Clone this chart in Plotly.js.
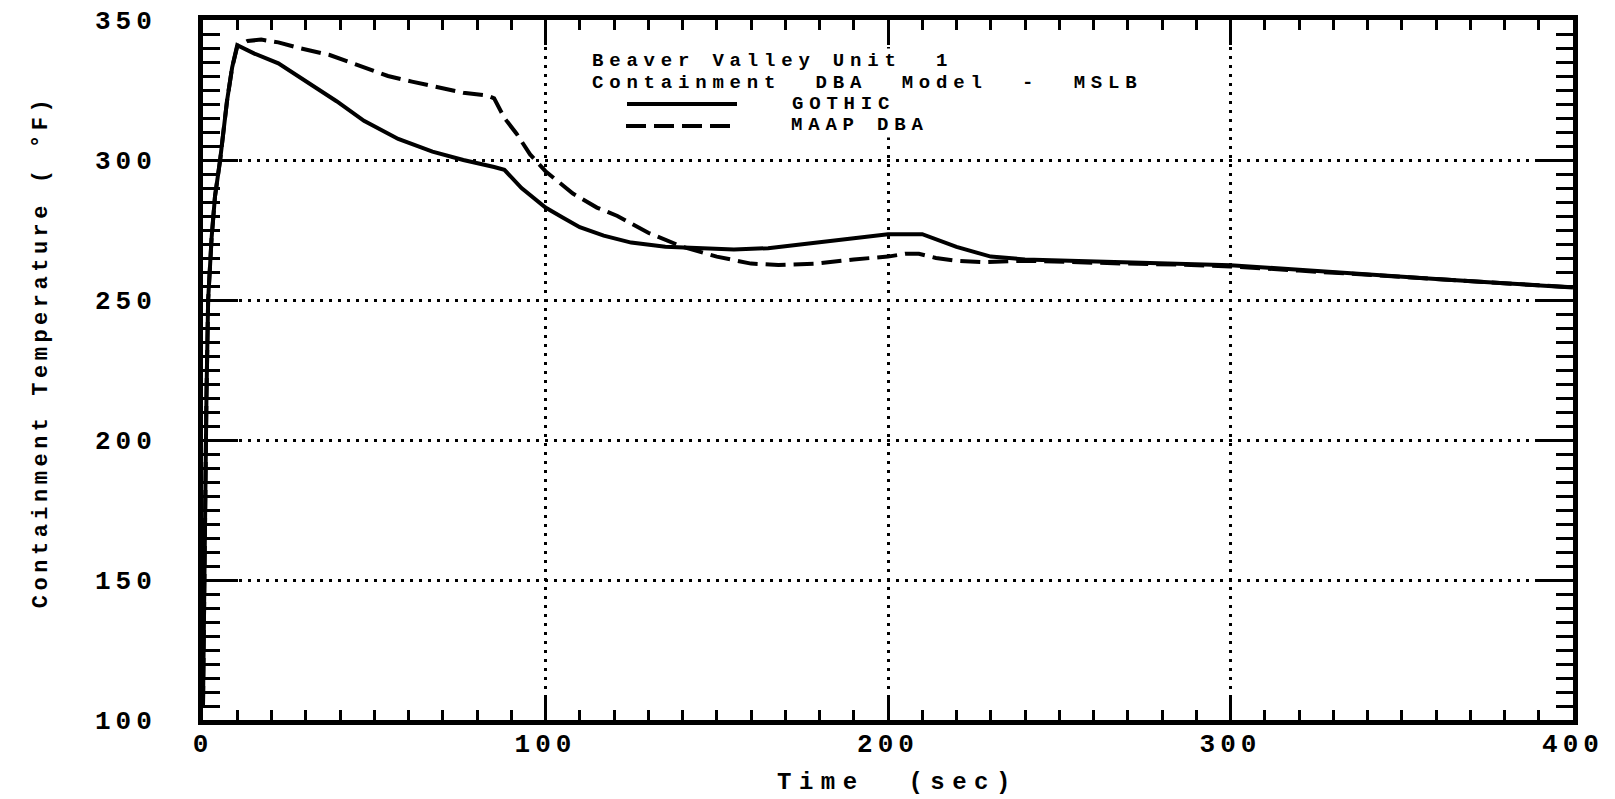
<!DOCTYPE html>
<html>
<head>
<meta charset="utf-8">
<script src="https://cdn.plot.ly/plotly-3.0.1.min.js"></script>
<style>
  html, body { margin: 0; padding: 0; background: #ffffff; }
  #chart { width: 1615px; height: 799px; }
  .xtick text, .ytick text { letter-spacing: 5px; }
  .annotation-text { letter-spacing: 5.8px; }
  .xlabel-note .annotation-text { letter-spacing: 7.5px; }
  .ylabel-note .annotation-text { letter-spacing: 4.5px; }
</style>
</head>
<body>
<div id="chart"></div>
<script>
// Containment temperature transient, main steam line break (MSLB)
const gothicTime = [0, 0.3, 0.6, 1, 1.5, 2.5, 3.5, 5, 7, 8.5, 10, 15, 22, 30, 39, 47, 57, 67, 76, 85, 88, 93, 100, 105, 110, 117, 125, 135, 145, 155, 165, 175, 185, 195, 200, 210, 220, 230, 240, 253, 270, 286, 300, 320, 340, 360, 380, 400];
const gothicTemp = [105, 150, 185, 215, 250, 272, 287, 300, 321, 333, 341, 338, 334.5, 328, 321, 314, 307.5, 303, 300, 297.5, 296.5, 290, 283, 279.5, 276, 273, 270.5, 269, 268.5, 268, 268.5, 270, 271.5, 273, 273.5, 273.5, 269, 265.5, 264.5, 264, 263.5, 263, 262.4, 260.8, 259, 257.5, 256, 254.5];

const maapTime = [0, 0.3, 0.6, 1, 1.5, 2.5, 3.5, 5, 7, 8.5, 10, 13, 17, 22, 28, 37, 45, 54, 61, 68, 76, 83, 85, 88, 91.5, 95.5, 100, 108, 115, 121, 130, 140, 150, 160, 168, 179, 190, 200, 205, 209, 214, 220, 228, 240, 253, 270, 286, 300, 320, 340, 360, 380, 400];
const maapTemp = [105, 150, 185, 215, 250, 272, 287, 300, 321, 333, 340.5, 342.5, 343, 342, 340, 337.5, 334, 330, 328, 326, 324, 323, 322, 315, 309.5, 302, 296, 288, 283, 280, 274, 269, 265.5, 263, 262.5, 263, 264.5, 265.5, 266.5, 266.5, 265, 264, 263.5, 264, 263.5, 263, 262.6, 262, 260.5, 259, 257.5, 256, 254.5];

const timeTicks = [0, 100, 200, 300, 400];
const tempTicks = [100, 150, 200, 250, 300, 350];

const seriesNames = ['GOTHIC', 'MAAP DBA'];
const headerLines = ['Beaver Valley Unit  1', 'Containment  DBA  Model  -  MSLB'];
const xTitle = 'Time  (sec)';
const yTitle = 'Containment Temperature ( °F)';

// plot frame in page pixels
const PL = 203, PR = 1573, PT = 20, PB = 720;
const px = x => (x - PL) / (PR - PL);
const py = y => (PB - y) / (PB - PT);

const FONT = 'Liberation Mono, Courier New, monospace';
const ink = '#000000';
const paper = '#ffffff';
const dashPattern = '20px,8px';

const traces = [
  {
    x: gothicTime, y: gothicTemp, name: seriesNames[0],
    type: 'scatter', mode: 'lines',
    line: { color: ink, width: 4 }
  },
  {
    x: maapTime, y: maapTemp, name: seriesNames[1],
    type: 'scatter', mode: 'lines',
    line: { color: ink, width: 4, dash: dashPattern }
  }
];

const tickFont = { family: FONT, size: 26, color: ink, weight: 'bold' };
const textFont = { family: FONT, size: 19, color: ink, weight: 'bold' };

const commonAxis = {
  showline: true, linecolor: ink, linewidth: 5, mirror: 'allticks',
  ticks: 'inside', tickcolor: ink, tickwidth: 3,
  showgrid: true, gridcolor: ink, gridwidth: 3, griddash: '3px,6px',
  zeroline: false, tickfont: tickFont, fixedrange: true
};

// header block and key labels sit on a white ground that hides the grid
const textDefaults = {
  xref: 'paper', yref: 'paper', xanchor: 'left', yanchor: 'middle', align: 'left',
  showarrow: false, font: textFont, borderpad: 1, bgcolor: paper
};

const layout = {
  width: 1615, height: 799,
  margin: { l: PL, r: 1615 - PR, t: PT, b: 799 - PB, pad: 0 },
  paper_bgcolor: paper, plot_bgcolor: paper,
  showlegend: false,
  xaxis: Object.assign({}, commonAxis, {
    range: [0, 400], tickmode: 'array', tickvals: timeTicks,
    ticklen: 25, ticklabelstandoff: -4,
    minor: { tick0: 0, dtick: 10, ticks: 'inside', ticklen: 10, tickwidth: 3, tickcolor: ink, showgrid: false }
  }),
  yaxis: Object.assign({}, commonAxis, {
    range: [100, 350], tickmode: 'array', tickvals: tempTicks,
    ticklen: 35, ticklabelstandoff: 36,
    minor: { tick0: 100, dtick: 5, ticks: 'inside', ticklen: 17, tickwidth: 3, tickcolor: ink, showgrid: false }
  }),
  // key samples next to the series names
  shapes: [
    { type: 'line', xref: 'paper', yref: 'paper', x0: px(627), x1: px(737), y0: py(104), y1: py(104),
      line: { color: ink, width: 4 } },
    { type: 'line', xref: 'paper', yref: 'paper', x0: px(626), x1: px(730), y0: py(126), y1: py(126),
      line: { color: ink, width: 4, dash: dashPattern } }
  ],
  annotations: [
    Object.assign({}, textDefaults, { text: headerLines[0], x: px(590), y: py(61) }),
    Object.assign({}, textDefaults, { text: headerLines[1], x: px(590), y: py(82.5) }),
    Object.assign({}, textDefaults, { text: seriesNames[0], x: px(790), y: py(104) }),
    Object.assign({}, textDefaults, { text: seriesNames[1], x: px(789), y: py(125.5) }),
    Object.assign({}, textDefaults, { text: xTitle, x: px(775), y: py(782), bgcolor: 'rgba(0,0,0,0)',
      font: Object.assign({}, textFont, { size: 24 }) }),
    { text: yTitle, x: px(41), y: py(352), xref: 'paper', yref: 'paper',
      xanchor: 'center', yanchor: 'middle', textangle: -90, showarrow: false,
      font: Object.assign({}, textFont, { size: 22 }) }
  ]
};

Plotly.newPlot('chart', traces, layout, { staticPlot: true, displayModeBar: false }).then(gd => {
  // character pitch of the two axis titles
  const notes = gd.querySelectorAll('.annotation');
  if (notes[4]) notes[4].classList.add('xlabel-note');
  if (notes[5]) notes[5].classList.add('ylabel-note');
});
</script>
</body>
</html>
